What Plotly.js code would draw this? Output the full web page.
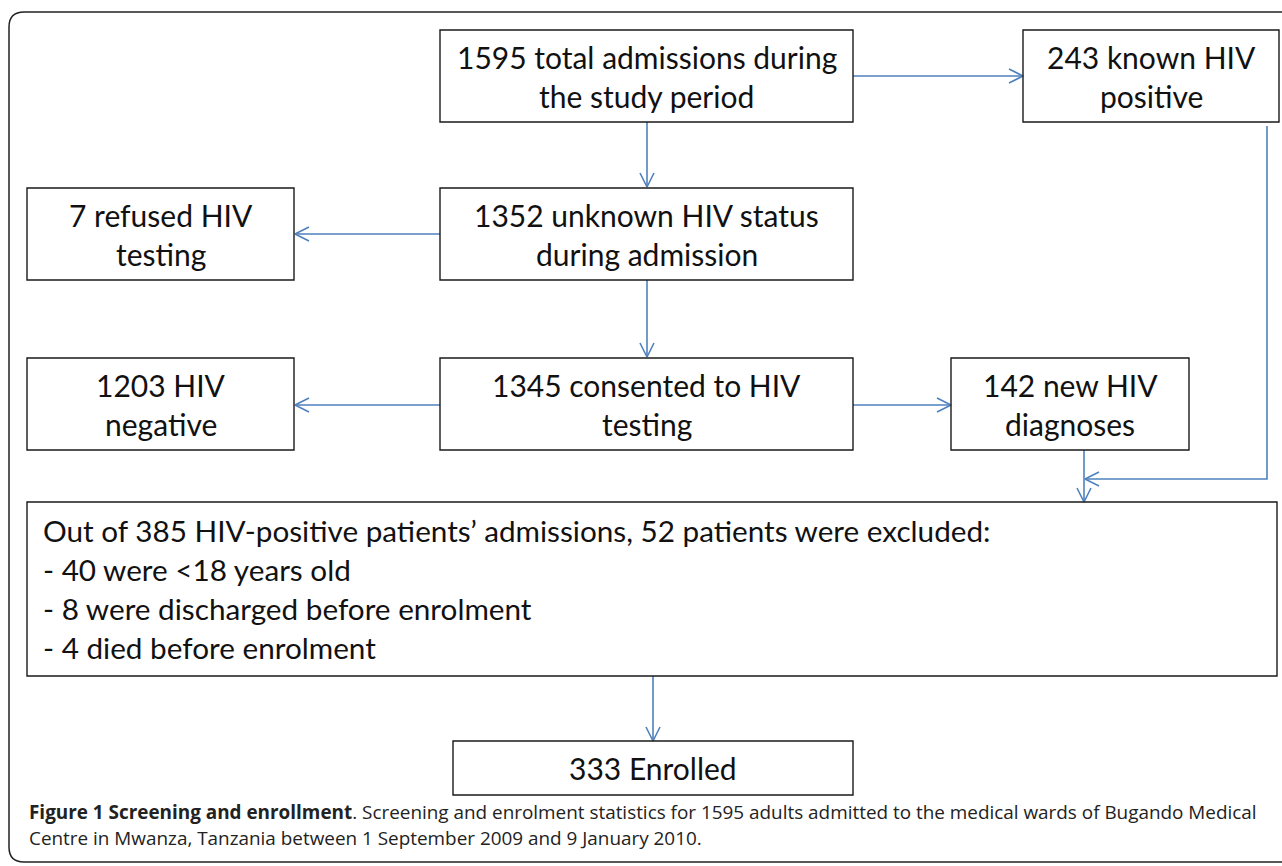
<!DOCTYPE html>
<html><head><meta charset="utf-8">
<script src="https://cdn.plot.ly/plotly-3.0.1.min.js"></script>
<style>html,body{margin:0;padding:0;background:#fff}#chart{width:1282px;height:866px}</style>
</head><body><div id="chart"></div>
<script>
// ---- content ----
const nodeIds = ["total","known","refused","unknown","negative","consented","newdx","excluded","enrolled"];
const nodeLines = [
  ["1595 total admissions during","the study period"],
  ["243 known HIV","positive"],
  ["7 refused HIV","testing"],
  ["1352 unknown HIV status","during admission"],
  ["1203 HIV","negative"],
  ["1345 consented to HIV","testing"],
  ["142 new HIV","diagnoses"],
  ["Out of 385 HIV-positive patients\u2019 admissions, 52 patients were excluded:","- 40 were <18 years old","- 8 were discharged before enrolment","- 4 died before enrolment"],
  ["333 Enrolled"]
];
const captionBold = "Figure 1 Screening and enrollment";
const captionLine1 = ". Screening and enrolment statistics for 1595 adults admitted to the medical wards of Bugando Medical";
const captionLine2 = "Centre in Mwanza, Tanzania between 1 September 2009 and 9 January 2010.";

// ---- geometry (pixel space) ----
const boxX0 = [440,1023,27,440,27,440,951,27,453];
const boxX1 = [853,1279,294,853,294,853,1189,1277,853];
const boxY0 = [30,30,188,188,358,358,358,502,741];
const boxY1 = [122,122,280,280,450,450,450,676,795];
const leftAligned = [false,false,false,false,false,false,false,true,false];

// connectors: polyline points, arrow at end
const connectors = [
  [[853,76],[1023,76]],
  [[647,122],[647,187]],
  [[440,234],[295,234]],
  [[647,280],[647,357]],
  [[440,405],[295,405]],
  [[853,405],[951,405]],
  [[1267,126],[1267,479],[1085,479]],
  [[1084,450],[1084,502]],
  [[653,676],[653,741]]
];

const blue = "#4f81bd";
const traces = [];
const shapes = [];
const annotations = [];

// frame
shapes.push({type:"path", xref:"x", yref:"y",
  path:"M 1300 862 L 24 862 Q 9 862 9 847 L 9 27 Q 9 12 24 12 L 1300 12",
  line:{color:"#222", width:1.5}});

nodeIds.forEach((id,i)=>{
  shapes.push({type:"rect", xref:"x", yref:"y", x0:boxX0[i], x1:boxX1[i], y0:boxY0[i], y1:boxY1[i],
    line:{color:"#1a1a1a", width:1.4}, fillcolor:"rgba(0,0,0,0)"});
  const lines = nodeLines[i];
  const cy = (boxY0[i]+boxY1[i])/2;
  const lh = 39;
  const n = lines.length;
  lines.forEach((t,k)=>{
    const y = cy + (k-(n-1)/2)*lh;
    annotations.push({xref:"x", yref:"y",
      x: leftAligned[i] ? boxX0[i]+14 : (boxX0[i]+boxX1[i])/2,
      y: y, xanchor: leftAligned[i] ? "left":"center", yanchor:"middle",
      text: t.replace(/</g,"&lt;"), showarrow:false,
      font:{family:"Lato, 'Open Sans', sans-serif", size:leftAligned[i]?29.7:30, color:"#111"}});
  });
});

connectors.forEach(pts=>{
  traces.push({type:"scatter", mode:"lines", x:pts.map(p=>p[0]), y:pts.map(p=>p[1]),
    line:{color:blue, width:1.6}, hoverinfo:"skip", showlegend:false});
  const a = pts[pts.length-2], b = pts[pts.length-1];
  const dx=b[0]-a[0], dy=b[1]-a[1], L=Math.hypot(dx,dy), ux=dx/L, uy=dy/L;
  const hl=14, hw=7;
  const bx=b[0]-ux*hl, by=b[1]-uy*hl;
  traces.push({type:"scatter", mode:"lines",
    x:[bx-uy*hw, b[0], bx+uy*hw], y:[by+ux*hw, b[1], by-ux*hw],
    line:{color:blue, width:1.6}, hoverinfo:"skip", showlegend:false});
});

annotations.push({xref:"x", yref:"y", x:27, y:812, xanchor:"left", yanchor:"middle", showarrow:false,
  text:"<b>"+captionBold+"</b>"+captionLine1,
  font:{family:"'Open Sans', sans-serif", size:18.9, color:"#222"}});
annotations.push({xref:"x", yref:"y", x:27, y:838, xanchor:"left", yanchor:"middle", showarrow:false,
  text:captionLine2,
  font:{family:"'Open Sans', sans-serif", size:18.9, color:"#222"}});

const layout = {
  width:1282, height:866, margin:{l:0,r:0,t:0,b:0},
  paper_bgcolor:"#fff", plot_bgcolor:"#fff",
  xaxis:{range:[0,1282], visible:false, fixedrange:true},
  yaxis:{range:[866,0], visible:false, fixedrange:true},
  shapes, annotations, showlegend:false
};
Plotly.newPlot("chart", traces, layout, {displayModeBar:false, staticPlot:true});
</script></body></html>
